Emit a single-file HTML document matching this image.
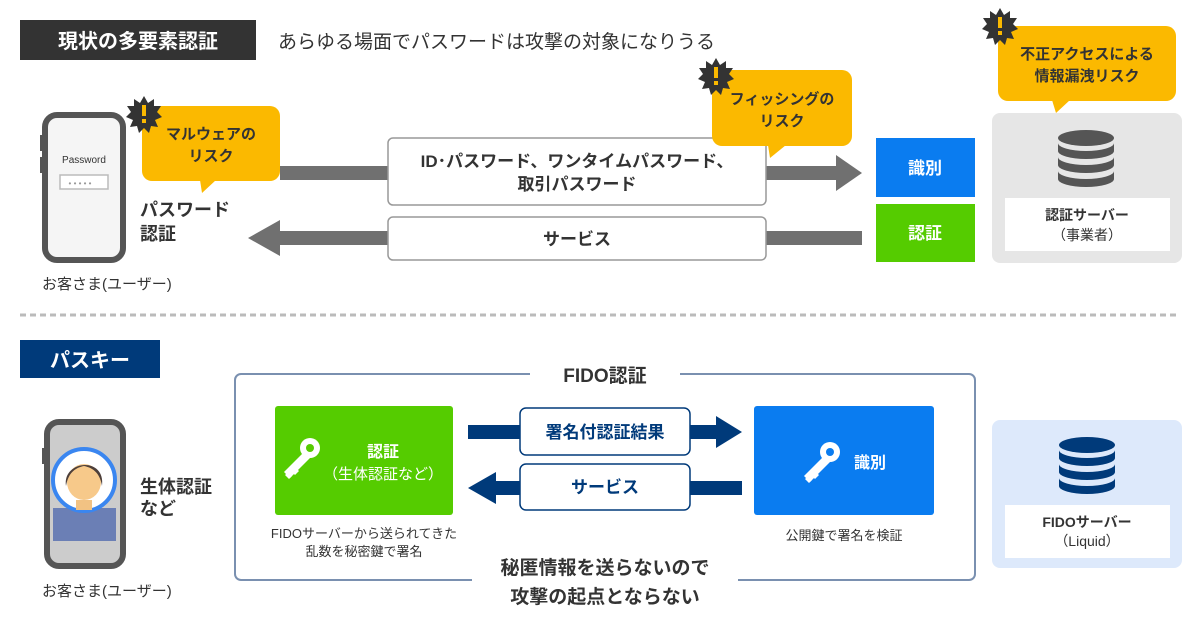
<!DOCTYPE html>
<html><head><meta charset="utf-8"><style>
html,body{margin:0;padding:0;background:#fff}
svg{display:block}
text{font-family:"Liberation Sans","Noto Sans CJK JP",sans-serif}
</style></head><body>
<svg width="1200" height="630" viewBox="0 0 1200 630" xmlns="http://www.w3.org/2000/svg">
<defs>
<g id="burst"><polygon fill="#333" points="0,-18 4,-11 10,-15 10,-8 17,-8 13,-2 18,3 11,6 14,13 7,12 5,19 0,14 -5,19 -7,12 -14,13 -11,6 -18,3 -13,-2 -17,-8 -10,-8 -10,-15 -4,-11"/><rect x="-2" y="-9" width="4" height="11" fill="#fbb900"/><rect x="-2" y="5" width="4" height="4" fill="#fbb900"/></g>
<g id="db"><ellipse cx="0" cy="-17" rx="28" ry="8"/><path d="M-28,-12 a28,8 0 0 0 56,0 v8 a28,8 0 0 1 -56,0z"/><path d="M-28,2 a28,8 0 0 0 56,0 v8 a28,8 0 0 1 -56,0z"/><path d="M-28,16 a28,8 0 0 0 56,0 v8 a28,8 0 0 1 -56,0z"/></g>
<g id="key" fill="#fff"><circle cx="10" cy="-10" r="10"/><circle cx="10" cy="-10" r="4" fill="currentColor"/><path d="M4,-6 L10,0 L-10,20 L-16,14z"/><path d="M-6,8 l5,5 -4,4 -5,-5z M-12,14 l4,4 -3,3 -4,-4z"/></g>
</defs>

<!-- header 1 -->
<rect x="20" y="20" width="236" height="40" fill="#333"/>
<text x="138" y="48" fill="#fff" font-size="20" font-weight="bold" text-anchor="middle">現状の多要素認証</text>
<text x="278" y="48" fill="#333" font-size="19">あらゆる場面でパスワードは攻撃の対象になりうる</text>

<!-- phone 1 -->
<rect x="40" y="135" width="4" height="16" fill="#555"/><rect x="40" y="157" width="4" height="16" fill="#555"/><rect x="122" y="140" width="4" height="16" fill="#555"/>
<rect x="45" y="115" width="78" height="145" rx="12" fill="#f5f5f5" stroke="#555" stroke-width="6"/>
<rect x="70" y="113" width="28" height="5" rx="2" fill="#555"/>
<text x="84" y="163" fill="#333" font-size="10" text-anchor="middle">Password</text>
<rect x="60" y="175" width="48" height="14" fill="#fff" stroke="#bbb" stroke-width="1.5"/>
<text x="80" y="186" fill="#999" font-size="8" text-anchor="middle">• • • • •</text>
<text x="42" y="289" fill="#333" font-size="15">お客さま(ユーザー)</text>

<!-- arrows top -->
<rect x="280" y="166" width="562" height="14" fill="#707070"/>
<polygon points="836,155 862,173 836,191" fill="#707070"/>
<rect x="272" y="231" width="590" height="14" fill="#707070"/>
<polygon points="280,220 248,238 280,256" fill="#707070"/>
<rect x="388" y="138" width="378" height="67" rx="5" fill="#fff" stroke="#999" stroke-width="1.5"/>
<text x="577" y="167" fill="#333" font-size="17" font-weight="bold" text-anchor="middle">ID･パスワード、ワンタイムパスワード、</text>
<text x="577" y="190" fill="#333" font-size="17" font-weight="bold" text-anchor="middle">取引パスワード</text>
<rect x="388" y="217" width="378" height="43" rx="5" fill="#fff" stroke="#999" stroke-width="1.5"/>
<text x="577" y="245" fill="#333" font-size="17" font-weight="bold" text-anchor="middle">サービス</text>

<!-- bubble malware -->
<rect x="142" y="106" width="138" height="75" rx="10" fill="#fbb900"/>
<polygon points="200,180 216,180 202,193" fill="#fbb900"/>
<text x="211" y="139" fill="#333" font-size="15" font-weight="bold" text-anchor="middle">マルウェアの</text>
<text x="211" y="161" fill="#333" font-size="15" font-weight="bold" text-anchor="middle">リスク</text>
<use href="#burst" x="144" y="114"/>
<text x="140" y="216" fill="#333" font-size="18" font-weight="bold">パスワード</text>
<text x="140" y="240" fill="#333" font-size="18" font-weight="bold">認証</text>

<!-- phishing bubble -->
<rect x="712" y="70" width="140" height="76" rx="10" fill="#fbb900"/>
<polygon points="768,145 786,145 770,158" fill="#fbb900"/>
<text x="782" y="104" fill="#333" font-size="15" font-weight="bold" text-anchor="middle">フィッシングの</text>
<text x="782" y="126" fill="#333" font-size="15" font-weight="bold" text-anchor="middle">リスク</text>
<use href="#burst" x="716" y="76"/>

<!-- blue/green -->
<rect x="876" y="138" width="99" height="59" fill="#0a7cf0"/>
<text x="925" y="174" fill="#fff" font-size="17" font-weight="bold" text-anchor="middle">識別</text>
<rect x="876" y="204" width="99" height="58" fill="#55cc00"/>
<text x="925" y="239" fill="#fff" font-size="17" font-weight="bold" text-anchor="middle">認証</text>

<!-- server 1 -->
<rect x="992" y="113" width="190" height="150" rx="8" fill="#e6e6e6"/>
<use href="#db" x="1086" y="155" fill="#555"/>
<rect x="1005" y="198" width="165" height="53" fill="#fff"/>
<text x="1087" y="220" fill="#333" font-size="14" font-weight="bold" text-anchor="middle">認証サーバー</text>
<text x="1087" y="240" fill="#333" font-size="14" text-anchor="middle">（事業者）</text>

<!-- unauthorized bubble -->
<rect x="998" y="26" width="178" height="75" rx="10" fill="#fbb900"/>
<polygon points="1052,100 1070,100 1056,113" fill="#fbb900"/>
<text x="1087" y="59" fill="#333" font-size="15" font-weight="bold" text-anchor="middle">不正アクセスによる</text>
<text x="1087" y="81" fill="#333" font-size="15" font-weight="bold" text-anchor="middle">情報漏洩リスク</text>
<use href="#burst" x="1000" y="26"/>

<!-- dashed -->
<line x1="20" y1="315" x2="1180" y2="315" stroke="#bbb" stroke-width="3" stroke-dasharray="6,4"/>

<!-- header 2 -->
<rect x="20" y="340" width="140" height="38" fill="#003a7a"/>
<text x="90" y="367" fill="#fff" font-size="20" font-weight="bold" text-anchor="middle">パスキー</text>

<!-- FIDO frame -->
<rect x="235" y="374" width="740" height="206" rx="6" fill="none" stroke="#7a90b0" stroke-width="2"/>
<rect x="530" y="362" width="150" height="24" fill="#fff"/>
<text x="605" y="382" fill="#333" font-size="19" font-weight="bold" text-anchor="middle">FIDO認証</text>

<rect x="275" y="406" width="178" height="109" rx="3" fill="#55cc00"/>
<use href="#key" x="300" y="458" color="#55cc00"/>
<text x="383" y="457" fill="#fff" font-size="16" font-weight="bold" text-anchor="middle">認証</text>
<text x="383" y="479" fill="#fff" font-size="15" text-anchor="middle">（生体認証など）</text>
<text x="364" y="538" fill="#333" font-size="13" text-anchor="middle">FIDOサーバーから送られてきた</text>
<text x="364" y="556" fill="#333" font-size="13" text-anchor="middle">乱数を秘密鍵で署名</text>

<rect x="468" y="425" width="250" height="14" fill="#003a7a"/>
<polygon points="716,416 742,432 716,448" fill="#003a7a"/>
<rect x="494" y="481" width="248" height="14" fill="#003a7a"/>
<polygon points="496,472 468,488 496,504" fill="#003a7a"/>
<rect x="520" y="408" width="170" height="47" rx="6" fill="#fff" stroke="#003a7a" stroke-width="1.5"/>
<text x="605" y="438" fill="#003a7a" font-size="17" font-weight="bold" text-anchor="middle">署名付認証結果</text>
<rect x="520" y="464" width="170" height="46" rx="6" fill="#fff" stroke="#003a7a" stroke-width="1.5"/>
<text x="605" y="493" fill="#003a7a" font-size="17" font-weight="bold" text-anchor="middle">サービス</text>

<rect x="754" y="406" width="180" height="109" rx="3" fill="#0a7cf0"/>
<use href="#key" x="820" y="462" color="#0a7cf0"/>
<text x="870" y="468" fill="#fff" font-size="16" font-weight="bold" text-anchor="middle">識別</text>
<text x="844" y="540" fill="#333" font-size="13" text-anchor="middle">公開鍵で署名を検証</text>

<rect x="472" y="552" width="266" height="56" fill="#fff"/>
<text x="605" y="574" fill="#333" font-size="19" font-weight="bold" text-anchor="middle">秘匿情報を送らないので</text>
<text x="605" y="603" fill="#333" font-size="19" font-weight="bold" text-anchor="middle">攻撃の起点とならない</text>

<!-- phone 2 -->
<rect x="42" y="448" width="4" height="16" fill="#555"/><rect x="122" y="448" width="4" height="16" fill="#555"/>
<rect x="47" y="422" width="76" height="144" rx="12" fill="#ccc" stroke="#555" stroke-width="6"/>
<rect x="70" y="420" width="28" height="5" rx="2" fill="#555"/>
<rect x="53" y="508" width="63" height="33" fill="#6b7fb5"/>
<circle cx="84" cy="480" r="31" fill="#fff" stroke="#3a86f0" stroke-width="4"/>
<rect x="76" y="500" width="16" height="10" fill="#f2c283"/>
<ellipse cx="84" cy="482" rx="17" ry="18" fill="#f7c98a"/>
<path d="M66,486 C62,460 106,456 102,486 C100,474 94,468 84,466 C74,468 68,474 66,486z" fill="#4d3f3a"/>
<text x="140" y="493" fill="#333" font-size="18" font-weight="bold">生体認証</text>
<text x="140" y="515" fill="#333" font-size="18" font-weight="bold">など</text>
<text x="42" y="596" fill="#333" font-size="15">お客さま(ユーザー)</text>

<!-- FIDO server -->
<rect x="992" y="420" width="190" height="148" rx="8" fill="#dde9fb"/>
<use href="#db" x="1087" y="462" fill="#003a7a"/>
<rect x="1005" y="505" width="165" height="53" fill="#fff"/>
<text x="1087" y="527" fill="#333" font-size="14" font-weight="bold" text-anchor="middle">FIDOサーバー</text>
<text x="1087" y="546" fill="#333" font-size="14" text-anchor="middle">（Liquid）</text>
</svg>
</body></html>
